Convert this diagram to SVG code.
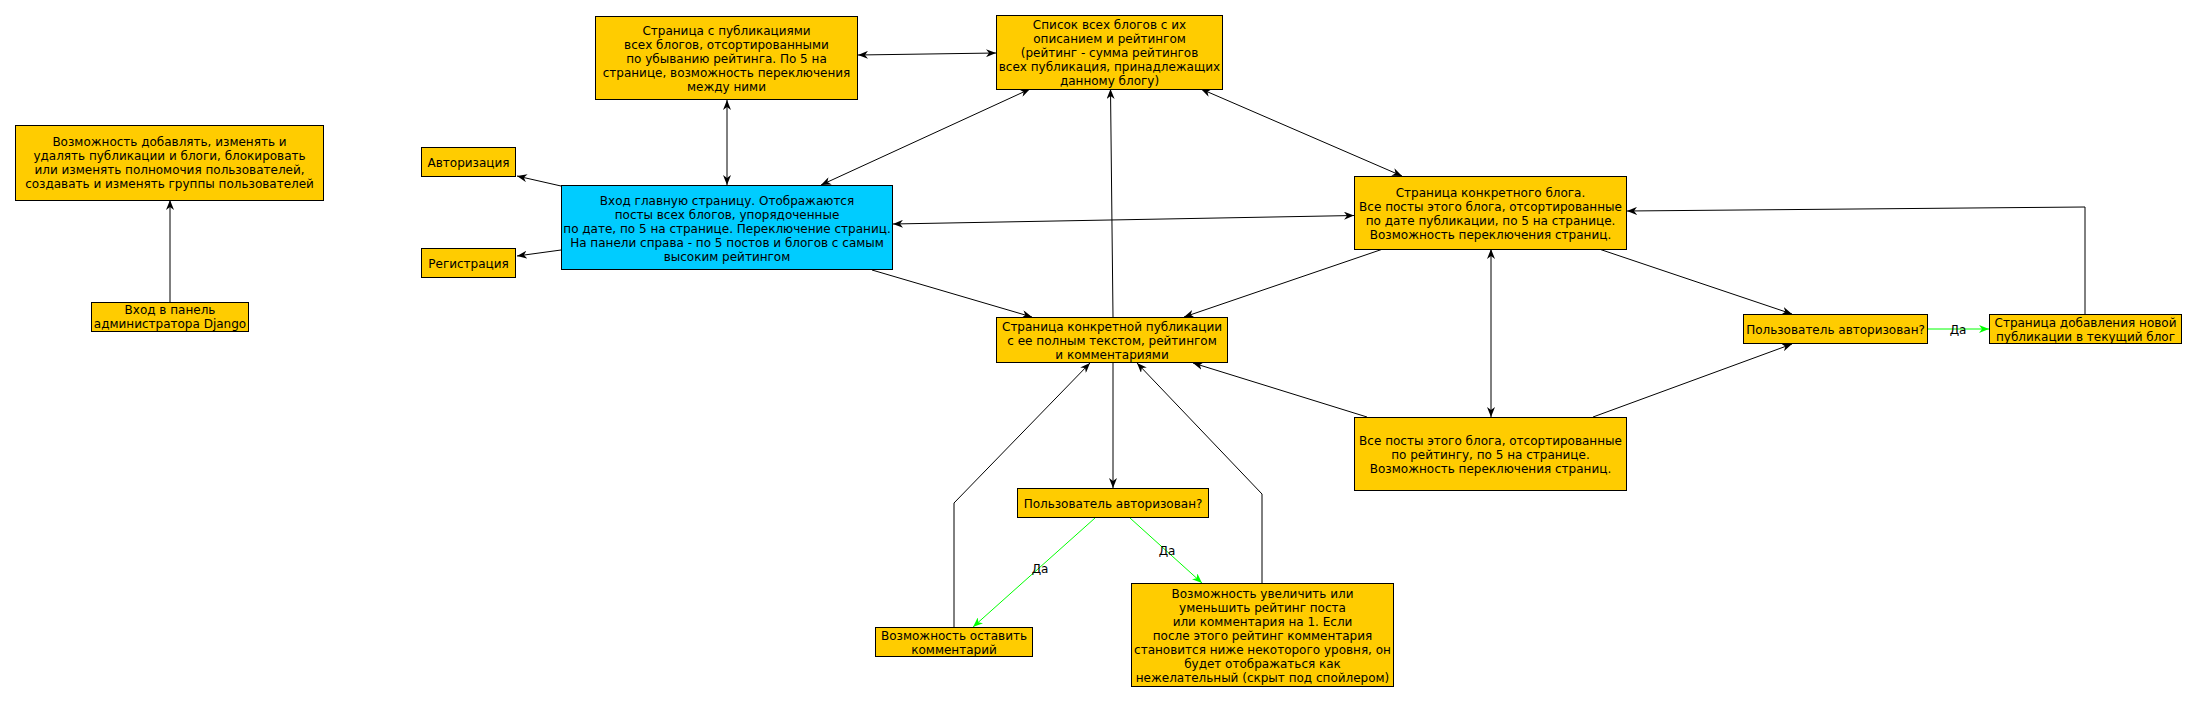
<svg xmlns="http://www.w3.org/2000/svg" width="2197" height="702" viewBox="0 0 2197 702">
<style>
.n{fill:#FFCC00;stroke:#000;stroke-width:1}
.b{fill:#00CCFF;stroke:#000;stroke-width:1}
text{font-family:"DejaVu Sans",sans-serif;font-size:12px;fill:#000;text-anchor:middle}
.c{fill:none;stroke:#000;stroke-width:1}
.g{fill:none;stroke:#00FF00;stroke-width:1}
</style>
<defs>
<marker id="a" viewBox="0 0 10 8" refX="10" refY="4" markerWidth="10" markerHeight="8" markerUnits="userSpaceOnUse" orient="auto-start-reverse"><path d="M0,0 L10,4 L0,8 L3,4 z" fill="#000"/></marker>
<marker id="ag" viewBox="0 0 10 8" refX="10" refY="4" markerWidth="10" markerHeight="8" markerUnits="userSpaceOnUse" orient="auto-start-reverse"><path d="M0,0 L10,4 L0,8 L3,4 z" fill="#00FF00"/></marker>
</defs>
<rect width="2197" height="702" fill="#fff"/>
<g id="connectors">
<line class="c" x1="170" y1="302" x2="170" y2="200" marker-end="url(#a)"/>
<line class="c" x1="561" y1="186" x2="517" y2="176" marker-end="url(#a)"/>
<line class="c" x1="561" y1="250" x2="517" y2="256" marker-end="url(#a)"/>
<line class="c" x1="727" y1="100" x2="727" y2="185" marker-start="url(#a)" marker-end="url(#a)"/>
<line class="c" x1="858" y1="55" x2="996" y2="53" marker-start="url(#a)" marker-end="url(#a)"/>
<line class="c" x1="1030" y1="89" x2="821" y2="185" marker-start="url(#a)" marker-end="url(#a)"/>
<line class="c" x1="1113" y1="317" x2="1110.5" y2="89" marker-end="url(#a)"/>
<line class="c" x1="1201" y1="89" x2="1402" y2="176" marker-start="url(#a)" marker-end="url(#a)"/>
<line class="c" x1="893" y1="224" x2="1354" y2="215.5" marker-start="url(#a)" marker-end="url(#a)"/>
<line class="c" x1="872" y1="270" x2="1032" y2="317" marker-end="url(#a)"/>
<line class="c" x1="1383" y1="249" x2="1184" y2="317" marker-end="url(#a)"/>
<line class="c" x1="1599" y1="249" x2="1792" y2="314" marker-end="url(#a)"/>
<line class="c" x1="1491" y1="249" x2="1491" y2="417" marker-start="url(#a)" marker-end="url(#a)"/>
<line class="c" x1="1367" y1="417" x2="1193" y2="363" marker-end="url(#a)"/>
<line class="c" x1="1593" y1="417" x2="1792" y2="344" marker-end="url(#a)"/>
<line class="g" x1="1928" y1="329" x2="1989" y2="329" marker-end="url(#ag)"/>
<text x="1958" y="333.5">Да</text>
<polyline class="c" points="2085,314 2085,207 1627,211" marker-end="url(#a)"/>
<line class="c" x1="1113" y1="363" x2="1113" y2="488" marker-end="url(#a)"/>
<line class="g" x1="1095" y1="518" x2="973" y2="627" marker-end="url(#ag)"/>
<text x="1040" y="572.5">Да</text>
<line class="g" x1="1130" y1="518" x2="1202" y2="583" marker-end="url(#ag)"/>
<text x="1167" y="555">Да</text>
<polyline class="c" points="954,627 954,503 1090,363" marker-end="url(#a)"/>
<polyline class="c" points="1262,583 1262,494 1137,363" marker-end="url(#a)"/>
</g>
<g id="admin"><rect class="n" x="15.5" y="125.5" width="308" height="75"/>
<text x="169.5"><tspan x="169.5" y="146">Возможность добавлять, изменять и</tspan><tspan x="169.5" y="160">удалять публикации и блоги, блокировать</tspan><tspan x="169.5" y="174">или изменять полномочия пользователей,</tspan><tspan x="169.5" y="188">создавать и изменять группы пользователей</tspan></text></g>
<g id="django"><rect class="n" x="91.5" y="302.5" width="157" height="29"/>
<text><tspan x="170" y="314">Вход в панель</tspan><tspan x="170" y="328">администратора Django</tspan></text></g>
<g id="auth"><rect class="n" x="421.5" y="147.5" width="94" height="29"/>
<text x="468.5" y="166.5">Авторизация</text></g>
<g id="reg"><rect class="n" x="421.5" y="248.5" width="94" height="29"/>
<text x="468.5" y="267.5">Регистрация</text></g>
<g id="main"><rect class="b" x="561.5" y="185.5" width="331" height="84"/>
<text><tspan x="727" y="204.5">Вход главную страницу. Отображаются</tspan><tspan x="727" y="218.5">посты всех блогов, упорядоченные</tspan><tspan x="727" y="232.5">по дате, по 5 на странице. Переключение страниц.</tspan><tspan x="727" y="246.5">На панели справа - по 5 постов и блогов с самым</tspan><tspan x="727" y="260.5">высоким рейтингом</tspan></text></g>
<g id="pubs"><rect class="n" x="595.5" y="16.5" width="262" height="83"/>
<text><tspan x="726.5" y="34.5">Страница с публикациями</tspan><tspan x="726.5" y="48.5">всех блогов, отсортированными</tspan><tspan x="726.5" y="62.5">по убыванию рейтинга. По 5 на</tspan><tspan x="726.5" y="76.5">странице, возможность переключения</tspan><tspan x="726.5" y="90.5">между ними</tspan></text></g>
<g id="bloglist"><rect class="n" x="996.5" y="15.5" width="226" height="74"/>
<text><tspan x="1109.5" y="28.5">Список всех блогов с их</tspan><tspan x="1109.5" y="42.5">описанием и рейтингом</tspan><tspan x="1109.5" y="56.5">(рейтинг - сумма рейтингов</tspan><tspan x="1109.5" y="70.5">всех публикация, принадлежащих</tspan><tspan x="1109.5" y="84.5">данному блогу)</tspan></text></g>
<g id="blogpage"><rect class="n" x="1354.5" y="176.5" width="272" height="73"/>
<text><tspan x="1490.5" y="196.5">Страница конкретного блога.</tspan><tspan x="1490.5" y="210.5">Все посты этого блога, отсортированные</tspan><tspan x="1490.5" y="224.5">по дате публикации, по 5 на странице.</tspan><tspan x="1490.5" y="238.5">Возможность переключения страниц.</tspan></text></g>
<g id="pubdetail"><rect class="n" x="996.5" y="317.5" width="231" height="45"/>
<text><tspan x="1112" y="330.5">Страница конкретной публикации</tspan><tspan x="1112" y="344.5">с ее полным текстом, рейтингом</tspan><tspan x="1112" y="358.5">и комментариями</tspan></text></g>
<g id="authq2"><rect class="n" x="1743.5" y="314.5" width="184" height="29"/>
<text x="1835.5" y="333.5">Пользователь авторизован?</text></g>
<g id="newpub"><rect class="n" x="1989.5" y="314.5" width="192" height="29"/>
<text><tspan x="2085.5" y="326.5">Страница добавления новой</tspan><tspan x="2085.5" y="340.5">публикации в текущий блог</tspan></text></g>
<g id="byrating"><rect class="n" x="1354.5" y="417.5" width="272" height="73"/>
<text><tspan x="1490.5" y="444.5">Все посты этого блога, отсортированные</tspan><tspan x="1490.5" y="458.5">по рейтингу, по 5 на странице.</tspan><tspan x="1490.5" y="472.5">Возможность переключения страниц.</tspan></text></g>
<g id="authq1"><rect class="n" x="1017.5" y="488.5" width="191" height="29"/>
<text x="1113" y="507.5">Пользователь авторизован?</text></g>
<g id="comment"><rect class="n" x="875.5" y="627.5" width="157" height="29"/>
<text><tspan x="954" y="640">Возможность оставить</tspan><tspan x="954" y="654">комментарий</tspan></text></g>
<g id="rating"><rect class="n" x="1131.5" y="583.5" width="262" height="103"/>
<text><tspan x="1262.5" y="597.5">Возможность увеличить или</tspan><tspan x="1262.5" y="611.5">уменьшить рейтинг поста</tspan><tspan x="1262.5" y="625.5">или комментария на 1. Если</tspan><tspan x="1262.5" y="639.5">после этого рейтинг комментария</tspan><tspan x="1262.5" y="653.5">становится ниже некоторого уровня, он</tspan><tspan x="1262.5" y="667.5">будет отображаться как</tspan><tspan x="1262.5" y="681.5">нежелательный (скрыт под спойлером)</tspan></text></g>
</svg>
